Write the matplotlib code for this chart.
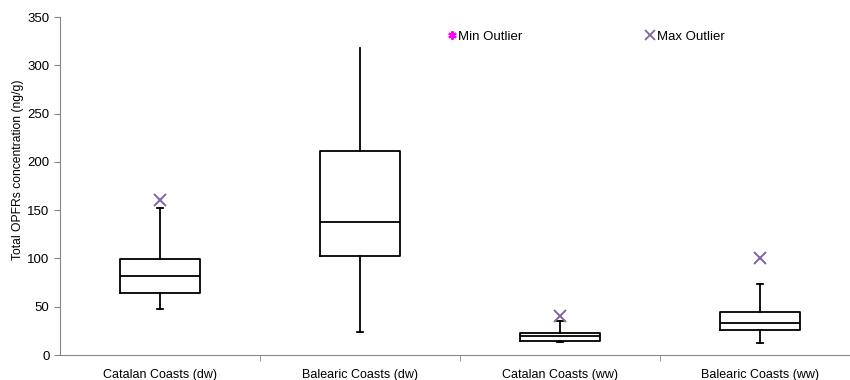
import matplotlib
matplotlib.use("Agg")
import matplotlib.pyplot as plt
from matplotlib.lines import Line2D

plt.rcParams['font.family'] = ['Liberation Sans', 'DejaVu Sans']

categories = ["Catalan Coasts (dw)", "Balearic Coasts (dw)", "Catalan Coasts (ww)", "Balearic Coasts (ww)"]
whisker_low = [48, 24, 13.5, 12.5]
q1 = [64.5, 102, 15, 26]
median = [82, 138, 19.5, 33]
q3 = [99.5, 211, 23, 45]
whisker_high = [152.5, 318, 35, 74]
max_outlier = [160, None, 40, 100]
yticks = [0, 50, 100, 150, 200, 250, 300, 350]

fig = plt.figure(figsize=(8.5, 3.8), dpi=100)
ax = fig.add_axes([60/850, 25/380, 800/850, 338/380])

stats = []
for i, c in enumerate(categories):
    stats.append(dict(label=c, whislo=whisker_low[i], q1=q1[i], med=median[i],
                      q3=q3[i], whishi=whisker_high[i], fliers=[]))

pos = list(range(len(categories)))
bp = ax.bxp(stats, positions=pos, widths=0.4, showfliers=False,
            boxprops=dict(color='black', linewidth=1.3),
            medianprops=dict(color='black', linewidth=1.3),
            whiskerprops=dict(color='black', linewidth=1.3),
            capprops=dict(color='black', linewidth=1.3),
            capwidths=0.03)
# the upper cap of the second box is not drawn in the reference
bp['caps'][3].set_visible(False)

for i, v in enumerate(max_outlier):
    if v is not None:
        ax.plot(pos[i], v, marker='x', color='#8064A2', markersize=8, mew=1.4, linestyle='none')

ax.set_xlim(-0.5, 3.5)
ax.set_ylim(0, 350)
ax.set_yticks(yticks)
ax.set_xticks(pos)
ax.set_xticklabels(categories, fontsize=9)
ax.set_xticks([0.5, 1.5, 2.5, 3.5], minor=True)
ax.tick_params(axis='x', which='major', length=0, pad=10)
ax.tick_params(axis='x', which='minor', length=4, color='#868686')
ax.tick_params(axis='y', length=4, color='#868686', labelsize=9.5)
ax.set_ylabel("Total OPFRs concentration (ng/g)", fontsize=8.7)
ax.yaxis.set_label_coords(-0.045, 0.547)
for s in ['top', 'right']:
    ax.spines[s].set_visible(False)
for s in ['left', 'bottom']:
    ax.spines[s].set_color('#868686')

handles = [Line2D([], [], marker=(6, 2, 0), color='#FF00FF', linestyle='none', markersize=6, mew=1.5),
           Line2D([], [], marker='x', color='#8064A2', linestyle='none', markersize=7, mew=1.3)]
ax.legend(handles, ["Min Outlier", "Max Outlier"], loc='upper left', bbox_to_anchor=(0.47, 0.995),
          ncol=2, frameon=False, fontsize=9.5, handlelength=0.6, handletextpad=0.2, columnspacing=9.35)

fig.savefig("out.png", dpi=100)
